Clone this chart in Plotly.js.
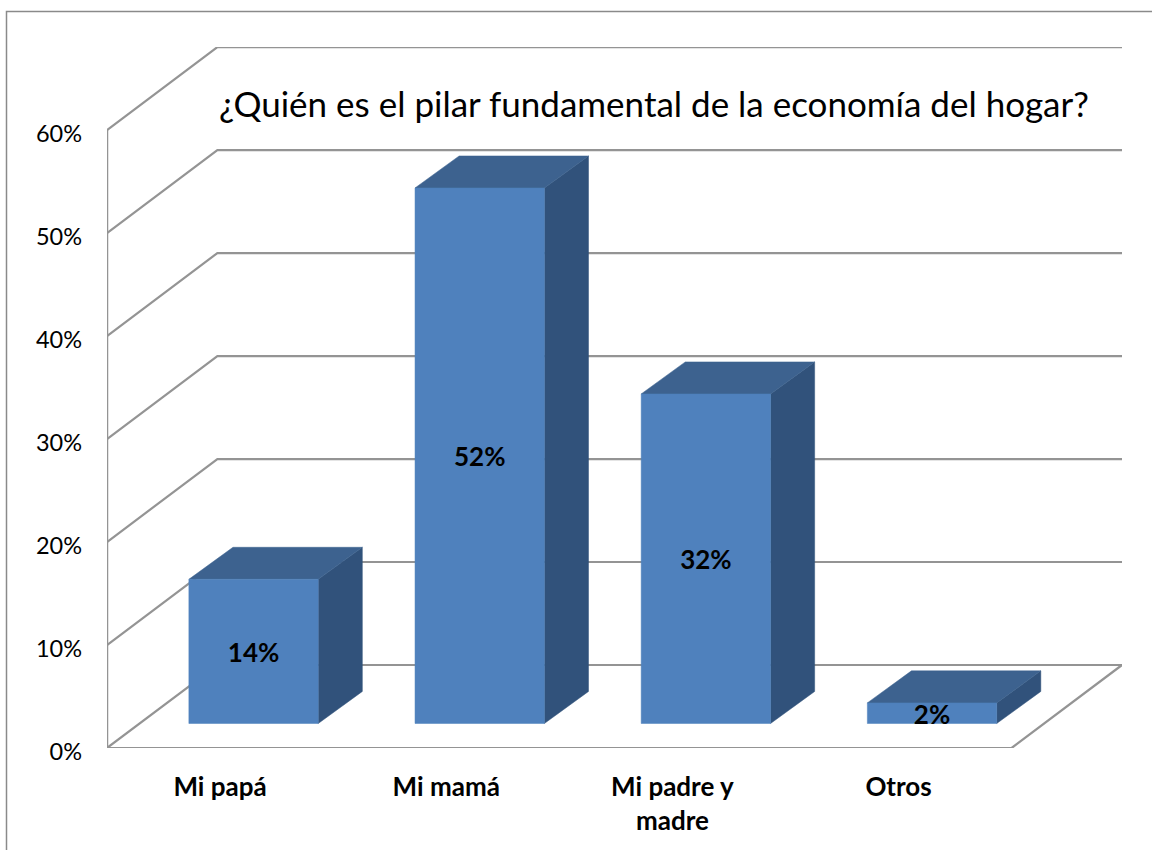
<!DOCTYPE html>
<html>
<head>
<meta charset="utf-8">
<script src="https://cdn.plot.ly/plotly-3.0.1.min.js"></script>
<style>html,body{margin:0;padding:0;background:#fff}#chart{width:1152px;height:850px}</style>
</head>
<body>
<div id="chart"></div>
<script>
const categories = ["Mi papá", "Mi mamá", "Mi padre y<br>madre", "Otros"];
const values = [14, 52, 32, 2];
const valueLabels = ["14%", "52%", "32%", "2%"];
const yTicks = [0, 10, 20, 30, 40, 50, 60];
const titleText = "¿Quién es el pilar fundamental de la economía del hogar?";

// oblique 3-D projection, expressed in axis units
const wallDX = 0.488, wallDY = 8.06;
const barHalf = 0.286, barShiftX = 0.148, barBase = 2.38;
const barDX = 0.195, barDY = 3.11, labelDrop = 0.4;
const xMin = -0.5, xMax = 3.5;

const GRID = "#949494", FONT = "Lato, Carlito, sans-serif";
const traces = [];

function line(x, y, color, width) {
  traces.push({type: "scatter", mode: "lines", x, y, hoverinfo: "skip", showlegend: false,
    line: {color, width}});
}
function face(x, y, color) {
  traces.push({type: "scatter", mode: "lines", x, y, fill: "toself", fillcolor: color,
    hoverinfo: "skip", showlegend: false, line: {color, width: 0.5}});
}

// walls and gridlines
yTicks.forEach(v => {
  line([xMin, xMin + wallDX, xMax + wallDX], [v, v + wallDY, v + wallDY], GRID, 2.2);
});
line([xMin, xMin], [yTicks[0], yTicks[yTicks.length - 1]], GRID, 2.5);
line([xMin, xMax, xMax + wallDX], [0, 0, wallDY], GRID, 2.2);

// bars
values.forEach((v, i) => {
  const x0 = i + barShiftX - barHalf, x1 = i + barShiftX + barHalf;
  const b = barBase, t = barBase + v;
  face([x1, x1 + barDX, x1 + barDX, x1, x1], [b, b + barDY, t + barDY, t, b], "#31527b");
  face([x0, x1, x1 + barDX, x0 + barDX, x0], [t, t, t + barDY, t + barDY, t], "#3d628f");
  face([x0, x1, x1, x0, x0], [b, b, t, t, b], "#4f81bd");
});

// data labels
traces.push({type: "scatter", mode: "text", hoverinfo: "skip", showlegend: false,
  x: values.map((v, i) => i + barShiftX),
  y: values.map(v => barBase + v / 2 - labelDrop),
  text: valueLabels, textposition: "middle center", cliponaxis: false,
  textfont: {family: FONT, size: 26, color: "#000", weight: 700}});

const W = 1152, H = 850, mL = 107, mR = 30, mT = 47, mB = 102;
const px = p => (p - mL) / (W - mL - mR);
const py = p => 1 - (p - mT) / (H - mT - mB);

Plotly.newPlot("chart", traces, {
  width: W, height: H, showlegend: false,
  paper_bgcolor: "#fff", plot_bgcolor: "rgba(0,0,0,0)",
  margin: {l: mL, r: mR, t: mT, b: mB, pad: 0},
  title: {text: titleText, font: {family: FONT, size: 35, color: "#000"},
    xref: "paper", yref: "paper", x: px(219), xanchor: "left", y: py(105), yanchor: "middle"},
  xaxis: {range: [xMin, xMax + wallDX], showgrid: false, zeroline: false, showline: false, ticks: "",
    tickmode: "array", tickvals: categories.map((c, i) => i), ticktext: categories,
    ticklabelstandoff: 21, tickfont: {family: FONT, size: 26, color: "#000", weight: 700}},
  yaxis: {range: [0, 68.07], showgrid: false, zeroline: false, showline: false, ticks: "",
    tickmode: "array", tickvals: yTicks, ticktext: yTicks.map(v => v + "%"),
    ticklabelstandoff: 24, ticklabelshift: 4, tickfont: {family: FONT, size: 23.5, color: "#000"}},
  shapes: [{type: "path", xref: "paper", yref: "paper", layer: "below",
    path: `M ${px(6.5)} ${py(850)} L ${px(6.5)} ${py(11.5)} L ${px(1152)} ${py(11.5)}`,
    line: {color: "#8a8a8a", width: 1.5}}]
}, {displayModeBar: false, staticPlot: true});
</script>
</body>
</html>
